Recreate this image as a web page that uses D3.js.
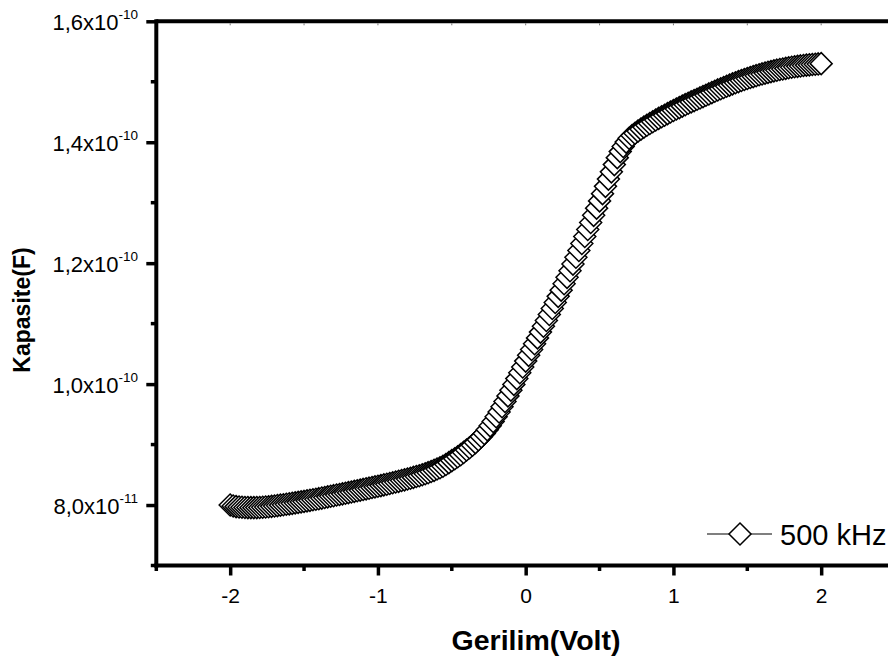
<!DOCTYPE html>
<html>
<head>
<meta charset="utf-8">
<script src="https://cdn.jsdelivr.net/npm/d3@7/dist/d3.min.js"></script>
<style>
  html, body { margin: 0; padding: 0; background: #fff; }
  svg { display: block; font-family: "Liberation Sans", Arial, sans-serif; }
</style>
</head>
<body>
<svg id="chart" width="888" height="656"></svg>
<script>
// C–V sweep at 500 kHz: bias voltage (V) and measured capacitance (pF)
const voltage = [
  -2.00, -1.98, -1.96, -1.94, -1.92, -1.90, -1.88, -1.86, -1.84, -1.82,
  -1.80, -1.78, -1.76, -1.74, -1.72, -1.70, -1.68, -1.66, -1.64, -1.62,
  -1.60, -1.58, -1.56, -1.54, -1.52, -1.50, -1.48, -1.46, -1.44, -1.42,
  -1.40, -1.38, -1.36, -1.34, -1.32, -1.30, -1.28, -1.26, -1.24, -1.22,
  -1.20, -1.18, -1.16, -1.14, -1.12, -1.10, -1.08, -1.06, -1.04, -1.02,
  -1.00, -0.98, -0.96, -0.94, -0.92, -0.90, -0.88, -0.86, -0.84, -0.82,
  -0.80, -0.78, -0.76, -0.74, -0.72, -0.70, -0.68, -0.66, -0.64, -0.62,
  -0.60, -0.58, -0.56, -0.54, -0.52, -0.50, -0.48, -0.46, -0.44, -0.42,
  -0.40, -0.38, -0.36, -0.34, -0.32, -0.30, -0.28, -0.26, -0.24, -0.22,
  -0.20, -0.18, -0.16, -0.14, -0.12, -0.10, -0.08, -0.06, -0.04, -0.02,
   0.00,  0.02,  0.04,  0.06,  0.08,  0.10,  0.12,  0.14,  0.16,  0.18,
   0.20,  0.22,  0.24,  0.26,  0.28,  0.30,  0.32,  0.34,  0.36,  0.38,
   0.40,  0.42,  0.44,  0.46,  0.48,  0.50,  0.52,  0.54,  0.56,  0.58,
   0.60,  0.62,  0.64,  0.66,  0.68,  0.70,  0.72,  0.74,  0.76,  0.78,
   0.80,  0.82,  0.84,  0.86,  0.88,  0.90,  0.92,  0.94,  0.96,  0.98,
   1.00,  1.02,  1.04,  1.06,  1.08,  1.10,  1.12,  1.14,  1.16,  1.18,
   1.20,  1.22,  1.24,  1.26,  1.28,  1.30,  1.32,  1.34,  1.36,  1.38,
   1.40,  1.42,  1.44,  1.46,  1.48,  1.50,  1.52,  1.54,  1.56,  1.58,
   1.60,  1.62,  1.64,  1.66,  1.68,  1.70,  1.72,  1.74,  1.76,  1.78,
   1.80,  1.82,  1.84,  1.86,  1.88,  1.90,  1.92,  1.94,  1.96,  1.98,
   2.00
];

const capacitancePF = [
   80.00,  79.85,  79.74,  79.67,  79.63,  79.60,  79.58,  79.57,  79.57,  79.58,
   79.60,  79.63,  79.67,  79.72,  79.78,  79.85,  79.91,  79.98,  80.05,  80.12,
   80.20,  80.28,  80.36,  80.44,  80.52,  80.60,  80.69,  80.78,  80.87,  80.96,
   81.05,  81.15,  81.25,  81.35,  81.45,  81.55,  81.65,  81.75,  81.85,  81.95,
   82.05,  82.15,  82.26,  82.36,  82.47,  82.58,  82.68,  82.79,  82.89,  83.00,
   83.10,  83.21,  83.33,  83.44,  83.56,  83.68,  83.80,  83.92,  84.05,  84.17,
   84.30,  84.43,  84.57,  84.71,  84.85,  85.00,  85.17,  85.35,  85.54,  85.74,
   85.95,  86.17,  86.42,  86.70,  87.01,  87.35,  87.65,  87.98,  88.33,  88.70,
   89.10,  89.48,  89.89,  90.33,  90.80,  91.30,  91.84,  92.44,  93.10,  93.82,
   94.60,  95.40,  96.25,  97.13,  98.05,  99.00,  99.95, 100.91, 101.87, 102.83,
  103.80, 104.76, 105.72, 106.68, 107.64, 108.60, 109.56, 110.53, 111.51, 112.50,
  113.50, 114.51, 115.54, 116.59, 117.66, 118.75, 119.85, 120.97, 122.10, 123.25,
  124.40, 125.56, 126.73, 127.91, 129.10, 130.30, 131.50, 132.70, 133.90, 135.10,
  136.30, 137.45, 138.45, 139.30, 140.02, 140.65, 141.11, 141.49, 141.84, 142.17,
  142.50, 142.80, 143.09, 143.38, 143.67, 143.95, 144.21, 144.47, 144.73, 144.99,
  145.25, 145.49, 145.73, 145.97, 146.21, 146.45, 146.67, 146.89, 147.11, 147.33,
  147.55, 147.77, 147.99, 148.21, 148.43, 148.65, 148.85, 149.05, 149.25, 149.45,
  149.65, 149.84, 150.02, 150.20, 150.38, 150.55, 150.71, 150.86, 151.01, 151.16,
  151.30, 151.43, 151.56, 151.68, 151.80, 151.92, 152.02, 152.12, 152.21, 152.31,
  152.40, 152.48, 152.55, 152.62, 152.69, 152.75, 152.80, 152.85, 152.90, 152.95,
  153.00
];

const seriesName = "500 kHz";

// Axis ticks
const xMajorTicks = [-2, -1, 0, 1, 2];
const xTickLabels = ["-2", "-1", "0", "1", "2"];
const xMinorTicks = [-2.5, -1.5, -0.5, 0.5, 1.5, 2.5];
const yMajorTicks = [80, 100, 120, 140, 160];            // pF
const yTickMantissa = ["8,0x10", "1,0x10", "1,2x10", "1,4x10", "1,6x10"];
const yTickExponent = ["-11", "-10", "-10", "-10", "-10"];
const yMinorTicks = [70, 90, 110, 130, 150];

const xTitle = "Gerilim(Volt)";
const yTitle = "Kapasite(F)";

// ---- layout ----
const svg = d3.select("#chart");
const plotLeft = 156.3, plotTop = 21.3, plotBottom = 565.5;
const x = d3.scaleLinear().domain([-2.5, 2.62]).range([plotLeft, plotLeft + 5.12 * 147.75]);
const y = d3.scaleLinear().domain([70, 160]).range([plotBottom, plotTop]);
const plotRight = x.range()[1];

const data = voltage.map((v, i) => ({ v, c: capacitancePF[i] }));

// connecting line under the markers
svg.append("path")
  .datum(data)
  .attr("fill", "none")
  .attr("stroke", "#000")
  .attr("stroke-width", 1)
  .attr("d", d3.line().x(d => x(d.v)).y(d => y(d.c)));

// open diamond markers, drawn in sweep order
const diamond = "M0,-11L11,0L0,11L-11,0Z";
svg.append("g")
  .selectAll("path")
  .data(data)
  .join("path")
  .attr("d", diamond)
  .attr("transform", d => `translate(${x(d.v)},${y(d.c)})`)
  .attr("fill", "#fff")
  .attr("stroke", "#000")
  .attr("stroke-width", 1.5);

// ---- frame ----
const frame = svg.append("g").attr("stroke", "#000").attr("fill", "none");
frame.append("line").attr("x1", plotLeft).attr("x2", plotRight + 2).attr("y1", plotTop).attr("y2", plotTop).attr("stroke-width", 4);
frame.append("line").attr("x1", plotRight).attr("x2", plotRight).attr("y1", plotTop).attr("y2", plotBottom).attr("stroke-width", 4);

// top edge: small inward ticks
svg.append("g")
  .selectAll("line")
  .data(xMajorTicks.concat(xMinorTicks))
  .join("line")
  .attr("x1", d => x(d)).attr("x2", d => x(d))
  .attr("y1", plotTop + 2).attr("y2", plotTop + 4)
  .attr("stroke", "#777").attr("stroke-width", 1);

// ---- bottom axis ----
const xAxisG = svg.append("g").attr("transform", `translate(0,${plotBottom})`);
xAxisG.call(d3.axisBottom(x).tickValues(xMajorTicks).tickSize(10).tickSizeOuter(0)
  .tickFormat((d, i) => xTickLabels[i]));
xAxisG.select(".domain").attr("stroke-width", 4).attr("d", `M${plotLeft - 2},0H${plotRight + 2}`);
xAxisG.selectAll(".tick line").attr("stroke-width", 3.5);
xAxisG.selectAll(".tick text")
  .attr("font-size", 21).attr("font-family", "Liberation Sans, Arial, sans-serif")
  .attr("fill", "#000").attr("y", 0).attr("dy", 37.5);
svg.append("g")
  .selectAll("line")
  .data(xMinorTicks)
  .join("line")
  .attr("x1", d => x(d)).attr("x2", d => x(d))
  .attr("y1", plotBottom).attr("y2", plotBottom + 5.5)
  .attr("stroke", "#000").attr("stroke-width", 3.5);

// ---- left axis ----
const yAxisG = svg.append("g").attr("transform", `translate(${plotLeft},0)`);
yAxisG.call(d3.axisLeft(y).tickValues(yMajorTicks).tickSize(10).tickSizeOuter(0).tickFormat(""));
yAxisG.select(".domain").attr("stroke-width", 4).attr("d", `M0,${plotTop - 2}V${plotBottom + 2}`);
yAxisG.selectAll(".tick line").attr("stroke-width", 3.5);
svg.append("g")
  .selectAll("line")
  .data(yMinorTicks)
  .join("line")
  .attr("x1", plotLeft - 5.5).attr("x2", plotLeft)
  .attr("y1", d => y(d)).attr("y2", d => y(d))
  .attr("stroke", "#000").attr("stroke-width", 3.5);

// y tick labels with superscript exponent
const yLab = svg.append("g")
  .selectAll("text")
  .data(yMajorTicks)
  .join("text")
  .attr("x", 138)
  .attr("y", d => y(d) + 9)
  .attr("text-anchor", "end")
  .attr("font-size", 22)
  .attr("fill", "#000");
yLab.append("tspan").text((d, i) => yTickMantissa[i]);
yLab.append("tspan")
  .attr("font-size", 13.5)
  .attr("dy", -11.5)
  .text((d, i) => yTickExponent[i]);

// ---- axis titles ----
svg.append("text")
  .attr("x", 536).attr("y", 650)
  .attr("text-anchor", "middle")
  .attr("font-size", 28.5).attr("font-weight", "bold")
  .text(xTitle);

svg.append("text")
  .attr("transform", "translate(30,310) rotate(-90)")
  .attr("text-anchor", "middle")
  .attr("font-size", 23).attr("font-weight", "bold")
  .text(yTitle);

// ---- legend ----
const lg = svg.append("g").attr("transform", "translate(740,534)");
lg.append("line").attr("x1", -33).attr("x2", 32).attr("y1", 0).attr("y2", 0)
  .attr("stroke", "#000").attr("stroke-width", 1.2);
lg.append("path").attr("d", diamond).attr("fill", "#fff").attr("stroke", "#000").attr("stroke-width", 1.5);
lg.append("text").attr("x", 40).attr("y", 11).attr("font-size", 29).attr("fill", "#000").text(seriesName);
</script>
</body>
</html>
